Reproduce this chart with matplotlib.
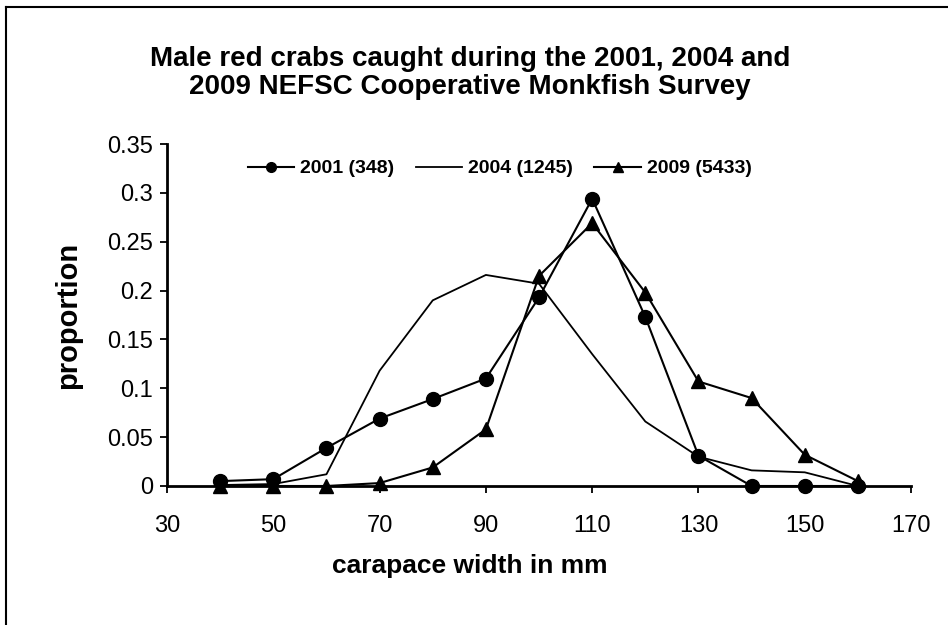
import matplotlib
matplotlib.use("Agg")
import matplotlib.pyplot as plt
from matplotlib.lines import Line2D

plt.rcParams['font.family'] = ['Liberation Sans', 'DejaVu Sans']

widths = [40, 50, 60, 70, 80, 90, 100, 110, 120, 130, 140, 150, 160]
p2001 = [0.005, 0.007, 0.039, 0.069, 0.089, 0.110, 0.193, 0.294, 0.173, 0.031, 0.0, 0.0, 0.0]
p2004 = [0.001, 0.002, 0.012, 0.118, 0.190, 0.216, 0.207, 0.135, 0.066, 0.030, 0.016, 0.014, 0.0]
p2009 = [0.0, 0.0, 0.0, 0.003, 0.019, 0.058, 0.215, 0.269, 0.198, 0.107, 0.090, 0.032, 0.005]
labels = ["2001 (348)", "2004 (1245)", "2009 (5433)"]
xticks = [30, 50, 70, 90, 110, 130, 150, 170]
yticks = [0, 0.05, 0.1, 0.15, 0.2, 0.25, 0.3, 0.35]
yticklabels = ["0", "0.05", "0.1", "0.15", "0.2", "0.25", "0.3", "0.35"]

fig = plt.figure(figsize=(9.48, 6.25), dpi=100)
ax = fig.add_axes([0.1762, 0.2224, 0.961 - 0.1762, 0.7696 - 0.2224])

ax.plot(widths, p2001, color='black', lw=1.5, marker='o', markersize=10, label=labels[0], clip_on=False, zorder=3)
ax.plot(widths, p2004, color='black', lw=1.3, label=labels[1], clip_on=False, zorder=2)
ax.plot(widths, p2009, color='black', lw=1.5, marker='^', markersize=10, label=labels[2], clip_on=False, zorder=3)

ax.set_xlim(30, 170)
ax.set_ylim(0, 0.35)
ax.set_xticks(xticks)
ax.set_xticklabels([str(t) for t in xticks], fontsize=17)
ax.set_yticks(yticks)
ax.set_yticklabels(yticklabels, fontsize=17)
for s in ['top', 'right']:
    ax.spines[s].set_visible(False)
for s in ['left', 'bottom']:
    ax.spines[s].set_linewidth(2)
ax.tick_params(axis='both', direction='out', length=5, width=1.3)
ax.tick_params(axis='y', pad=5)
ax.tick_params(axis='x', pad=16)

ax.set_xlabel("carapace width in mm", fontsize=19, fontweight='bold', labelpad=12, x=0.407)
ax.set_ylabel("proportion", fontsize=21, fontweight='bold', labelpad=18)

fig.text(0.496, 0.883, "Male red crabs caught during the 2001, 2004 and\n2009 NEFSC Cooperative Monkfish Survey",
         ha='center', va='center', fontsize=20, fontweight='bold', linespacing=1.1)

leg = ax.legend(loc='center', bbox_to_anchor=(0.447, 0.928), ncol=3, frameon=False,
                prop={'size': 14, 'weight': 'bold'}, handlelength=2.4, columnspacing=1.1,
                handletextpad=0.3, markerscale=0.7)

# figure frame (left and top edges)
fig.add_artist(Line2D([0.0068, 0.0068], [0, 0.989], transform=fig.transFigure, color='black', lw=1.5))
fig.add_artist(Line2D([0.0068, 1.0], [0.989, 0.989], transform=fig.transFigure, color='black', lw=1.5))

fig.savefig("out.png", dpi=100)
